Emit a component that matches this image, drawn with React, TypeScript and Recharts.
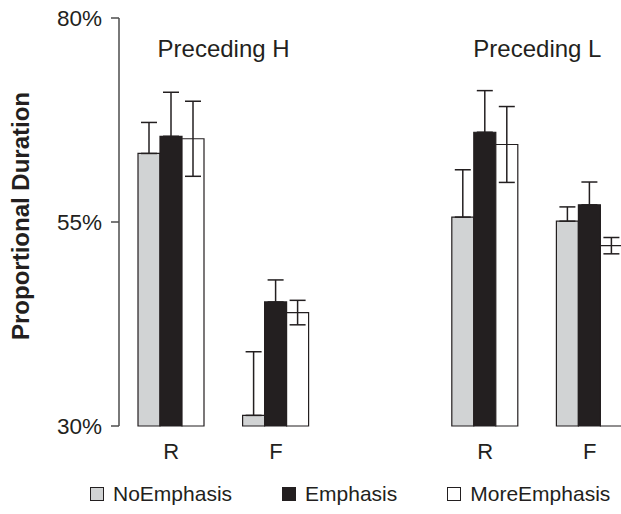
import { BarChart, Bar, XAxis, YAxis, ErrorBar, Legend, ReferenceArea } from 'recharts'

const FONT = '"Liberation Sans", Arial, Helvetica, sans-serif'
const INK = '#231f20'
const GREY = '#d1d3d4'

// five slots on the x axis; the empty one keeps the two panels apart
const ids = ['H-R', 'H-F', 'gap', 'L-R', 'L-F']
const categories = ['R', 'F', '', 'R', 'F']

const noEmphasis = [63.4, 31.3, null, 55.6, 55.1]
const emphasis = [65.5, 45.2, null, 66.0, 57.1]
const moreEmphasis = [65.2, 43.9, null, 64.5, 52.1]

const noEmphasisErr = [3.8, 7.8, null, 5.8, 1.75]
const emphasisErr = [5.4, 2.7, null, 5.1, 2.8]
const moreEmphasisErr = [4.6, 1.5, null, 4.65, 1.0]

const yTicks = [30, 55, 80]

const series = [
  { key: 'noEmphasis', name: 'NoEmphasis', fill: GREY },
  { key: 'emphasis', name: 'Emphasis', fill: INK },
  { key: 'moreEmphasis', name: 'MoreEmphasis', fill: '#ffffff' },
]

// filled bars hide the lower half of their whiskers, so only the upper part is drawn
const data = ids.map((id, i) => ({
  id,
  noEmphasis: noEmphasis[i],
  emphasis: emphasis[i],
  moreEmphasis: moreEmphasis[i],
  noEmphasisErr: noEmphasisErr[i] == null ? null : [0, noEmphasisErr[i]],
  emphasisErr: emphasisErr[i] == null ? null : [0, emphasisErr[i]],
  moreEmphasisErr: moreEmphasisErr[i],
}))

function LegendBox() {
  return (
    <div
      style={{
        height: 40,
        boxSizing: 'border-box',
        paddingTop: 16,
        paddingLeft: 90,
        display: 'flex',
        gap: 50,
        fontFamily: FONT,
        fontSize: 21,
        color: INK,
        lineHeight: '22px',
      }}
    >
      {series.map((s) => (
        <div key={s.key} style={{ display: 'flex', alignItems: 'center' }}>
          <span
            style={{
              display: 'inline-block',
              width: 12,
              height: 12,
              background: s.fill,
              border: `1px solid ${INK}`,
              marginRight: 9,
            }}
          />
          <span>{s.name}</span>
        </div>
      ))}
    </div>
  )
}

function YLabel(props: any) {
  const vb = props.viewBox || { y: 18, height: 408 }
  const cy = vb.y + vb.height / 2 - 6
  return (
    <text
      x={29}
      y={cy}
      transform={`rotate(-90, 29, ${cy})`}
      textAnchor="middle"
      fontFamily={FONT}
      fontSize={24}
      fontWeight="bold"
      fill={INK}
    >
      Proportional Duration
    </text>
  )
}

export default function App() {
  return (
    <div style={{ position: 'fixed', left: 0, top: 0, width: 621, height: 514, overflow: 'hidden', background: '#fff' }}>
      <BarChart
        width={642}
        height={514}
        data={data}
        margin={{ top: 18, right: 0, left: 0, bottom: 8 }}
        barGap={0}
        barSize={22}
      >
        <XAxis
          dataKey="id"
          height={40}
          axisLine={false}
          tickLine={false}
          tickSize={8}
          tickMargin={9}
          interval={0}
          tickFormatter={(_v: string, i: number) => categories[i]}
          tick={{ fontSize: 22, fill: INK, fontFamily: FONT }}
        />
        <YAxis
          width={119}
          domain={[30, 80]}
          ticks={yTicks}
          interval={0}
          tickFormatter={(v: number) => `${v}%`}
          axisLine={{ stroke: '#4d4d4d', strokeWidth: 1.5 }}
          tickLine={{ stroke: '#4d4d4d', strokeWidth: 1.5 }}
          tickSize={8}
          tickMargin={9}
          tick={{ fontSize: 22.5, fill: INK, fontFamily: FONT }}
          label={YLabel}
        />
        <ReferenceArea
          x1="H-R"
          x2="H-F"
          y1={80}
          y2={74}
          fillOpacity={0}
          stroke="none"
          label={{ value: 'Preceding H', position: 'insideTop', offset: 22, fontSize: 24, fill: INK, fontFamily: FONT }}
        />
        <ReferenceArea
          x1="L-R"
          x2="L-F"
          y1={80}
          y2={74}
          fillOpacity={0}
          stroke="none"
          label={{ value: 'Preceding L', position: 'insideTop', offset: 22, fontSize: 24, fill: INK, fontFamily: FONT }}
        />
        {series.map((s) => (
          <Bar
            key={s.key}
            dataKey={s.key}
            name={s.name}
            fill={s.fill}
            stroke={INK}
            strokeWidth={1.2}
            isAnimationActive={false}
          >
            <ErrorBar dataKey={`${s.key}Err`} width={8} stroke={INK} strokeWidth={1.5} direction="y" />
          </Bar>
        ))}
        <Legend verticalAlign="bottom" content={<LegendBox />} />
      </BarChart>
    </div>
  )
}
